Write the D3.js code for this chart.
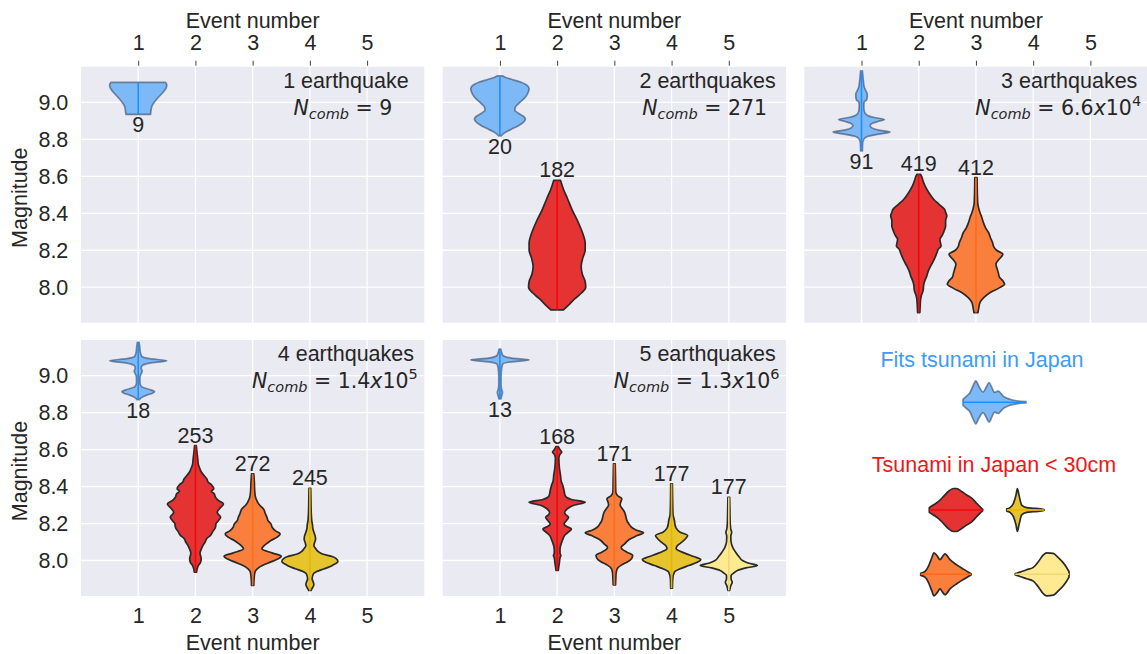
<!DOCTYPE html>
<html>
<head>
<meta charset="utf-8">
<script src="https://cdn.jsdelivr.net/npm/d3@7"></script>
<style>
  body { margin: 0; background: #ffffff; }
  svg { display: block; }
  text { font-family: "Liberation Sans", Arial, sans-serif; fill: #262626; }
  .math { font-family: "DejaVu Sans", sans-serif; }
</style>
</head>
<body>
<svg id="chart" width="1147" height="654"></svg>
<script>
// ---- data -------------------------------------------------------------
const eventNumbers = [1, 2, 3, 4, 5];
const magnitudeTicks = [8.0, 8.2, 8.4, 8.6, 8.8, 9.0];
const quakeTitles = ["1 earthquake", "2 earthquakes", "3 earthquakes", "4 earthquakes", "5 earthquakes"];
const combMantissa = ["9", "271", "6.6", "1.4", "1.3"];
const combExponent = [null, null, "4", "5", "6"];

const counts1 = [9];
const counts2 = [20, 182];
const counts3 = [91, 419, 412];
const counts4 = [18, 253, 272, 245];
const counts5 = [13, 168, 171, 177, 177];

// violin profiles: [magnitude, half-width in event units]
const quake1Event1 = [[8.935,0.215],[8.96,0.225],[8.98,0.24],[9.0,0.28],[9.02,0.33],[9.04,0.39],[9.06,0.45],[9.08,0.49],[9.095,0.5],[9.108,0.48]];

const quake2Event1 = [[8.818,0.02],[8.835,0.08],[8.855,0.2],[8.875,0.33],[8.895,0.42],[8.91,0.445],[8.925,0.41],[8.94,0.33],[8.958,0.26],[8.975,0.27],[8.995,0.33],[9.02,0.42],[9.045,0.48],[9.075,0.51],[9.095,0.46],[9.11,0.36],[9.125,0.2],[9.135,0.1],[9.143,0.05]];
const quake2Event2 = [[7.877,0.11],[7.9,0.19],[7.935,0.3],[7.97,0.43],[8.0,0.5],[8.03,0.49],[8.07,0.44],[8.115,0.42],[8.16,0.45],[8.2,0.49],[8.24,0.49],[8.28,0.46],[8.35,0.37],[8.42,0.26],[8.48,0.18],[8.53,0.11],[8.578,0.06]];

const quake3Event1 = [[8.737,0.015],[8.78,0.02],[8.8,0.04],[8.815,0.1],[8.828,0.3],[8.84,0.5],[8.85,0.3],[8.862,0.18],[8.875,0.15],[8.888,0.2],[8.898,0.3],[8.908,0.4],[8.918,0.22],[8.93,0.1],[8.95,0.05],[8.98,0.04],[9.0,0.045],[9.015,0.09],[9.03,0.1],[9.045,0.1],[9.06,0.08],[9.08,0.05],[9.11,0.035],[9.14,0.025],[9.17,0.015]];
const quake3Event2 = [[7.863,0.02],[7.9,0.025],[7.94,0.035],[7.96,0.05],[7.975,0.07],[7.99,0.08],[8.01,0.085],[8.03,0.1],[8.06,0.14],[8.09,0.17],[8.115,0.21],[8.15,0.27],[8.188,0.32],[8.205,0.34],[8.223,0.39],[8.24,0.38],[8.259,0.37],[8.28,0.41],[8.31,0.45],[8.331,0.47],[8.36,0.47],[8.386,0.49],[8.405,0.47],[8.422,0.45],[8.45,0.35],[8.476,0.26],[8.51,0.18],[8.548,0.11],[8.58,0.07],[8.6,0.05],[8.611,0.03]];
const quake3Event3 = [[7.863,0.035],[7.89,0.05],[7.917,0.07],[7.945,0.14],[7.971,0.25],[7.995,0.4],[8.016,0.5],[8.035,0.47],[8.055,0.41],[8.079,0.39],[8.1,0.37],[8.124,0.35],[8.15,0.4],[8.178,0.47],[8.2,0.36],[8.22,0.31],[8.242,0.29],[8.27,0.25],[8.296,0.22],[8.32,0.17],[8.35,0.13],[8.38,0.1],[8.404,0.07],[8.43,0.045],[8.458,0.03],[8.5,0.025],[8.593,0.02]];

const quake4Event1 = [[8.87,0.02],[8.88,0.05],[8.895,0.15],[8.905,0.25],[8.913,0.285],[8.925,0.2],[8.94,0.06],[8.96,0.03],[8.99,0.03],[9.01,0.05],[9.025,0.07],[9.04,0.05],[9.055,0.07],[9.068,0.2],[9.081,0.5],[9.092,0.2],[9.105,0.06],[9.13,0.035],[9.16,0.025],[9.18,0.015]];
const quake4Event2 = [[7.937,0.02],[7.955,0.03],[7.973,0.05],[7.99,0.09],[8.01,0.1],[8.025,0.09],[8.04,0.08],[8.06,0.1],[8.081,0.13],[8.1,0.17],[8.12,0.2],[8.135,0.26],[8.155,0.3],[8.18,0.35],[8.2,0.36],[8.215,0.4],[8.234,0.44],[8.25,0.4],[8.261,0.38],[8.28,0.42],[8.306,0.49],[8.325,0.4],[8.342,0.35],[8.36,0.33],[8.375,0.28],[8.388,0.32],[8.41,0.28],[8.425,0.22],[8.441,0.2],[8.46,0.15],[8.48,0.1],[8.495,0.08],[8.52,0.05],[8.55,0.04],[8.59,0.025],[8.622,0.015]];
const quake4Event3 = [[7.865,0.02],[7.9,0.025],[7.937,0.04],[7.955,0.08],[7.973,0.17],[7.99,0.3],[8.005,0.42],[8.023,0.5],[8.04,0.35],[8.063,0.16],[8.08,0.2],[8.095,0.26],[8.108,0.32],[8.125,0.42],[8.144,0.48],[8.16,0.4],[8.18,0.34],[8.198,0.32],[8.215,0.27],[8.234,0.25],[8.255,0.22],[8.279,0.19],[8.3,0.12],[8.32,0.08],[8.342,0.05],[8.38,0.035],[8.42,0.03],[8.469,0.02]];
const quake4Event4 = [[7.838,0.02],[7.855,0.05],[7.87,0.07],[7.883,0.06],[7.9,0.04],[7.927,0.06],[7.94,0.12],[7.955,0.25],[7.975,0.4],[7.995,0.49],[8.01,0.46],[8.02,0.4],[8.035,0.22],[8.05,0.14],[8.065,0.1],[8.081,0.07],[8.095,0.08],[8.117,0.1],[8.135,0.09],[8.153,0.07],[8.175,0.05],[8.195,0.045],[8.21,0.035],[8.25,0.025],[8.3,0.02],[8.391,0.015]];

const quake5Event1 = [[8.874,0.015],[8.89,0.03],[8.91,0.045],[8.925,0.03],[8.95,0.02],[9.0,0.02],[9.04,0.03],[9.063,0.05],[9.075,0.2],[9.085,0.51],[9.095,0.2],[9.11,0.05],[9.125,0.03],[9.144,0.015]];
const quake5Event2 = [[7.946,0.02],[7.97,0.03],[7.99,0.04],[8.015,0.05],[8.027,0.065],[8.04,0.05],[8.06,0.05],[8.08,0.06],[8.099,0.08],[8.115,0.1],[8.135,0.13],[8.15,0.18],[8.171,0.25],[8.185,0.16],[8.198,0.12],[8.215,0.16],[8.234,0.2],[8.248,0.15],[8.261,0.13],[8.28,0.18],[8.3,0.3],[8.315,0.49],[8.33,0.25],[8.351,0.14],[8.38,0.12],[8.405,0.1],[8.43,0.07],[8.459,0.06],[8.5,0.04],[8.55,0.03],[8.575,0.05],[8.586,0.08],[8.6,0.05],[8.616,0.02]];
const quake5Event3 = [[7.868,0.02],[7.9,0.025],[7.93,0.03],[7.955,0.05],[7.975,0.12],[7.991,0.22],[8.01,0.3],[8.027,0.32],[8.045,0.22],[8.06,0.14],[8.072,0.12],[8.09,0.18],[8.114,0.26],[8.135,0.4],[8.15,0.51],[8.165,0.38],[8.18,0.3],[8.2,0.25],[8.216,0.22],[8.24,0.2],[8.261,0.18],[8.28,0.14],[8.3,0.1],[8.315,0.11],[8.334,0.13],[8.35,0.06],[8.37,0.025],[8.45,0.02],[8.523,0.015]];
const quake5Event4 = [[7.85,0.015],[7.9,0.02],[7.937,0.05],[7.955,0.15],[7.973,0.3],[7.99,0.45],[8.005,0.51],[8.02,0.4],[8.036,0.26],[8.05,0.15],[8.063,0.08],[8.08,0.1],[8.099,0.18],[8.12,0.25],[8.135,0.28],[8.153,0.15],[8.175,0.08],[8.195,0.06],[8.216,0.05],[8.25,0.025],[8.3,0.02],[8.415,0.015]];
const quake5Event5 = [[7.838,0.015],[7.86,0.03],[7.883,0.06],[7.9,0.04],[7.919,0.04],[7.935,0.1],[7.946,0.15],[7.96,0.3],[7.973,0.5],[7.985,0.35],[8.0,0.24],[8.02,0.18],[8.045,0.12],[8.07,0.07],[8.1,0.04],[8.13,0.035],[8.153,0.05],[8.17,0.035],[8.2,0.025],[8.26,0.02],[8.342,0.015]];

// key shapes (horizontal violins): [relative position, relative half-height]
const keyFits  = [[0,0.14],[0.053,0.28],[0.107,0.43],[0.16,0.77],[0.203,1],[0.255,0.72],[0.319,0.48],[0.372,0.72],[0.415,0.92],[0.458,0.68],[0.5,0.46],[0.558,0.52],[0.638,0.29],[0.745,0.14],[0.85,0.07],[1,0.03]];
const keyRed   = [[0,0.11],[0.075,0.23],[0.169,0.39],[0.263,0.62],[0.356,0.86],[0.45,1],[0.512,1],[0.606,0.86],[0.7,0.7],[0.794,0.55],[0.887,0.31],[0.951,0.15],[1,0.03]];
const keyYellow = [[0,0.05],[0.088,0.11],[0.18,0.31],[0.249,0.69],[0.287,1],[0.33,0.69],[0.402,0.23],[0.536,0.11],[0.716,0.08],[0.893,0.05],[1,0.015]];
const keyOrange = [[0,0.05],[0.085,0.13],[0.153,0.37],[0.219,0.76],[0.264,1],[0.332,0.84],[0.384,0.68],[0.437,0.84],[0.483,0.95],[0.583,0.68],[0.716,0.44],[0.849,0.24],[0.948,0.1],[1,0.03]];
const keyPale  = [[0,0.03],[0.088,0.1],[0.21,0.21],[0.335,0.32],[0.428,0.58],[0.521,0.9],[0.583,1],[0.708,0.97],[0.801,0.77],[0.894,0.53],[0.955,0.32],[1,0.13]];

// ---- styling ----------------------------------------------------------
const eventFill = ["#7db9f6", "#e53232", "#fa7f3c", "#e6c42d", "#feea90"];
const eventLine = ["#1e8fff", "#f20a0a", "#ff6a1c", "#e8b400", "#f3d772"];
const eventEdge = ["rgba(60,80,110,0.65)", "#2a2a2a", "#2a2a2a", "#2a2a2a", "#2a2a2a"];

const panels = [
  { row: 0, col: 0, violins: [quake1Event1], counts: counts1 },
  { row: 0, col: 1, violins: [quake2Event1, quake2Event2], counts: counts2 },
  { row: 0, col: 2, violins: [quake3Event1, quake3Event2, quake3Event3], counts: counts3 },
  { row: 1, col: 0, violins: [quake4Event1, quake4Event2, quake4Event3, quake4Event4], counts: counts4 },
  { row: 1, col: 1, violins: [quake5Event1, quake5Event2, quake5Event3, quake5Event4, quake5Event5], counts: counts5 }
];

const colLeft = [81, 442.7, 804.3];
const rowTop = [66.7, 340];
const panelW = 343.3, panelH = 256;
const fontSize = 21.5;

const svg = d3.select("#chart");

panels.forEach((p, pi) => {
  const left = colLeft[p.col], top = rowTop[p.row];
  const x = d3.scaleLinear().domain([0, 6]).range([left, left + panelW]);
  const y = d3.scaleLinear().domain([7.808, 9.193]).range([top + panelH, top]);
  const g = svg.append("g");

  g.append("rect")
    .attr("x", left).attr("y", top)
    .attr("width", panelW).attr("height", panelH)
    .attr("fill", "#eaeaf2");

  // grid
  g.selectAll(".vgrid").data(eventNumbers).join("line")
    .attr("class", "vgrid")
    .attr("x1", d => x(d)).attr("x2", d => x(d))
    .attr("y1", top).attr("y2", top + panelH)
    .attr("stroke", "#ffffff").attr("stroke-width", 1.3);
  g.selectAll(".hgrid").data(magnitudeTicks).join("line")
    .attr("class", "hgrid")
    .attr("x1", left).attr("x2", left + panelW)
    .attr("y1", d => y(d)).attr("y2", d => y(d))
    .attr("stroke", "#ffffff").attr("stroke-width", 1.3);

  // violins
  p.violins.forEach((prof, i) => {
    const ev = eventNumbers[i];
    const pts = prof.slice().sort((a, b) => b[0] - a[0]);
    const area = d3.area()
      .curve(d3.curveMonotoneY)
      .y(d => y(d[0]))
      .x0(d => x(ev - d[1]))
      .x1(d => x(ev + d[1]));
    g.append("path")
      .attr("d", area(pts))
      .attr("fill", eventFill[i])
      .attr("stroke", eventEdge[i])
      .attr("stroke-width", 1.7)
      .attr("stroke-linejoin", "round");
    const lo = d3.min(prof, d => d[0]), hi = d3.max(prof, d => d[0]);
    g.append("line")
      .attr("x1", x(ev)).attr("x2", x(ev))
      .attr("y1", y(lo)).attr("y2", y(hi))
      .attr("stroke", eventLine[i]).attr("stroke-width", 1.6);
    // sample count
    g.append("text")
      .attr("x", x(ev))
      .attr("y", i === 0 ? y(lo) + 18 : y(hi) - 3)
      .attr("text-anchor", "middle")
      .style("font-size", fontSize + "px")
      .text(p.counts[i]);
  });

  // title block
  const tx = x(4.63);
  g.append("text")
    .attr("x", tx).attr("y", top + 21)
    .attr("text-anchor", "middle")
    .style("font-size", fontSize + "px")
    .text(quakeTitles[pi]);
  const exp = combExponent[pi];
  const m = g.append("text")
    .attr("class", "math")
    .attr("x", tx + (exp ? -11 : -3)).attr("y", top + 48)
    .attr("text-anchor", "middle")
    .style("font-size", "20.5px");
  m.append("tspan").style("font-style", "italic").text("N");
  m.append("tspan").style("font-style", "italic").style("font-size", "14.5px").attr("dy", 4).text("comb");
  m.append("tspan").attr("dy", -4).text(" = " + combMantissa[pi]);
  if (exp) {
    m.append("tspan").style("font-style", "italic").text("x");
    m.append("tspan").text("10");
    m.append("tspan").style("font-size", "14.5px").attr("dy", -9).text(exp);
  }

  // axes
  if (p.row === 0) {
    const ax = g.append("g")
      .attr("transform", `translate(0,${top - 1})`)
      .call(d3.axisTop(x).tickValues(eventNumbers).tickSize(5).tickPadding(10.7).tickFormat(d3.format("d")));
    ax.select(".domain").remove();
    ax.selectAll("line").attr("stroke", "#444").attr("stroke-width", 1);
    ax.selectAll("text").attr("fill", "#262626").style("font-size", fontSize + "px")
      .style("font-family", '"Liberation Sans", Arial, sans-serif');
    g.append("text")
      .attr("x", left + panelW / 2).attr("y", 28.3)
      .attr("text-anchor", "middle")
      .style("font-size", fontSize + "px")
      .text("Event number");
  } else {
    const ax = g.append("g")
      .attr("transform", `translate(0,${top + panelH})`)
      .call(d3.axisBottom(x).tickValues(eventNumbers).tickSize(0).tickPadding(11.7).tickFormat(d3.format("d")));
    ax.select(".domain").remove();
    ax.selectAll("text").attr("fill", "#262626").style("font-size", fontSize + "px")
      .style("font-family", '"Liberation Sans", Arial, sans-serif');
    g.append("text")
      .attr("x", left + panelW / 2).attr("y", 650)
      .attr("text-anchor", "middle")
      .style("font-size", fontSize + "px")
      .text("Event number");
  }
  if (p.col === 0) {
    const ay = g.append("g")
      .attr("transform", `translate(${left},0)`)
      .call(d3.axisLeft(y).tickValues(magnitudeTicks).tickSize(0).tickPadding(12.7).tickFormat(d3.format(".1f")));
    ay.select(".domain").remove();
    ay.selectAll("text").attr("fill", "#262626").style("font-size", fontSize + "px")
      .style("font-family", '"Liberation Sans", Arial, sans-serif');
    g.append("text")
      .attr("transform", `translate(26.7,${top + panelH / 2 + 3}) rotate(-90)`)
      .attr("text-anchor", "middle")
      .style("font-size", fontSize + "px")
      .text("Magnitude");
  }
});

// ---- key panel ----------------------------------------------------------
const key = svg.append("g");
key.append("text")
  .attr("x", 982).attr("y", 367)
  .attr("text-anchor", "middle")
  .style("font-size", fontSize + "px")
  .style("fill", "#3d9cf5")
  .text("Fits tsunami in Japan");
key.append("text")
  .attr("x", 994).attr("y", 471.5)
  .attr("text-anchor", "middle")
  .style("font-size", fontSize + "px")
  .style("fill", "#f01616")
  .text("Tsunami in Japan < 30cm");

const keyShapes = [
  { prof: keyFits,   ev: 0, x0: 963,   x1: 1026, cy: 402.3 },
  { prof: keyRed,    ev: 1, x0: 929.3, x1: 982.7, cy: 510 },
  { prof: keyYellow, ev: 3, x0: 1006.7, x1: 1044, cy: 510 },
  { prof: keyOrange, ev: 2, x0: 920.7, x1: 971, cy: 574.3 },
  { prof: keyPale,   ev: 4, x0: 1015.3, x1: 1069, cy: 574.3 }
];
keyShapes.forEach(k => {
  const kx = d3.scaleLinear().domain([0, 1]).range([k.x0, k.x1]);
  const kh = d3.scaleLinear().domain([0, 1]).range([0, 21.5]);
  const area = d3.area()
    .curve(d3.curveMonotoneX)
    .x(d => kx(d[0]))
    .y0(d => k.cy + kh(d[1]))
    .y1(d => k.cy - kh(d[1]));
  key.append("path")
    .attr("d", area(k.prof))
    .attr("fill", eventFill[k.ev])
    .attr("stroke", eventEdge[k.ev])
    .attr("stroke-width", 1.7)
    .attr("stroke-linejoin", "round");
  key.append("line")
    .attr("x1", kx(0)).attr("x2", kx(1))
    .attr("y1", k.cy).attr("y2", k.cy)
    .attr("stroke", eventLine[k.ev]).attr("stroke-width", 1.4);
});
</script>
</body>
</html>
